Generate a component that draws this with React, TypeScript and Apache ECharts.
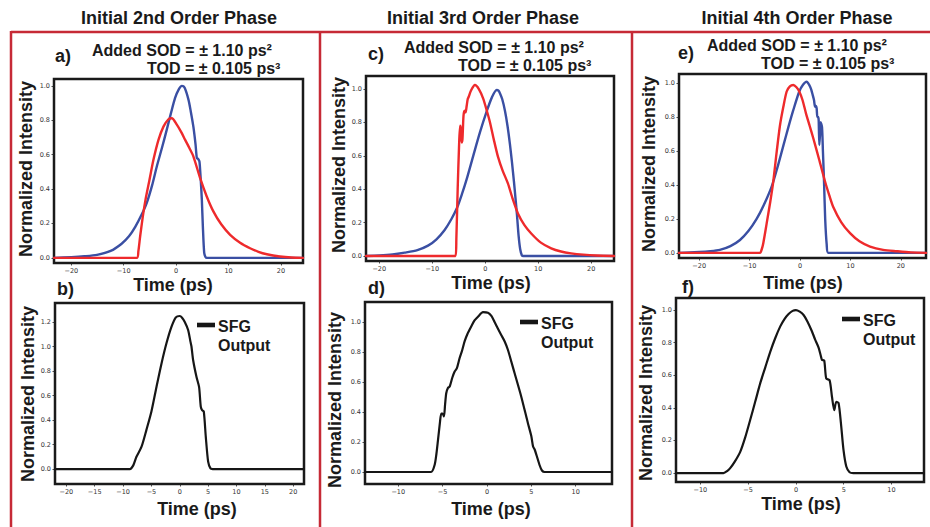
import React, { useEffect, useRef } from "react";
import * as echarts from "echarts";

// ---------- data ----------
const xTicksWide = [-20, -10, 0, 10, 20];
const xTicksB = [-20, -15, -10, -5, 0, 5, 10, 15, 20];
const xTicksNarrow = [-10, -5, 0, 5, 10];
const yTicks10 = [0, 0.2, 0.4, 0.6, 0.8, 1.0];
const yTicks12 = [0, 0.2, 0.4, 0.6, 0.8, 1.0, 1.2];

const columnTitles = ["Initial 2nd Order Phase", "Initial 3rd Order Phase", "Initial 4th Order Phase"];
const panelLetters = ["a)", "b)", "c)", "d)", "e)", "f)"];
const sodText = "Added SOD = \u00b1 1.10 ps\u00b2";
const todText = "TOD = \u00b1 0.105 ps\u00b3";

const aBlue: number[][] = [[-23.3,0],[-20,0.004],[-17.5,0.009],[-15.1,0.017],[-12.5,0.04],[-10.4,0.082],[-9,0.125],[-7.8,0.18],[-6.6,0.25],[-5.6,0.32],[-4.6,0.42],[-3.7,0.53],[-2.7,0.64],[-1.8,0.744],[-1,0.84],[-0.2,0.93],[0.5,0.98],[1.1,1.0],[1.6,0.99],[2.35,0.92],[2.8,0.85],[3.3,0.76],[3.7,0.66],[3.95,0.58],[4.2,0.575],[4.45,0.56],[4.7,0.45],[4.9,0.34],[5.1,0.18],[5.35,0.03],[5.6,0.005],[5.85,0],[24.2,0]];
const aRed: number[][] = [[-23.3,0],[-7.5,0],[-7.2,0.04],[-6.87,0.124],[-6.36,0.24],[-5.85,0.337],[-5.09,0.453],[-4.33,0.57],[-3.37,0.686],[-2.42,0.763],[-1.46,0.806],[-0.83,0.812],[0.13,0.775],[1.0,0.73],[1.72,0.686],[2.5,0.64],[3.3,0.589],[4.58,0.463],[5.8,0.36],[7.1,0.27],[8.6,0.195],[10.3,0.134],[12.2,0.088],[14.1,0.056],[15.7,0.035],[17.3,0.021],[19.8,0.008],[22,0.002],[24.2,0]];
const bSfg: number[][] = [[-22,0],[-8.8,0],[-8.2,0.03],[-7.64,0.1],[-6.76,0.18],[-5.88,0.32],[-5.0,0.47],[-4.11,0.67],[-3.23,0.86],[-2.35,1.026],[-1.47,1.16],[-0.7,1.238],[0,1.249],[0.4,1.235],[0.88,1.2],[1.47,1.135],[1.88,1.04],[2.06,1.0],[2.35,0.89],[2.94,0.753],[3.4,0.67],[3.7,0.51],[3.94,0.48],[4.23,0.47],[4.59,0.26],[5.0,0.06],[5.41,0.005],[5.8,0],[21.9,0]];
const cBlue: number[][] = [[-22.5,0],[-20,0.003],[-17.5,0.009],[-15.2,0.02],[-12.8,0.035],[-10.8,0.062],[-9.2,0.1],[-7.66,0.156],[-6.4,0.22],[-5.3,0.29],[-4.4,0.37],[-3.5,0.46],[-2.26,0.6],[-1.0,0.74],[0.32,0.87],[1.26,0.95],[2.15,0.994],[2.5,0.99],[2.77,0.975],[3.2,0.94],[3.72,0.87],[4.2,0.78],[4.66,0.67],[5.05,0.56],[5.42,0.445],[5.7,0.35],[5.98,0.25],[6.3,0.12],[6.6,0.04],[6.9,0.005],[7.2,0],[24.3,0]];
const cRed: number[][] = [[-22.5,0],[-5.6,0],[-5.45,0.1],[-5.2,0.4],[-4.95,0.65],[-4.75,0.78],[-4.6,0.76],[-4.45,0.68],[-4.3,0.7],[-4.1,0.84],[-3.9,0.87],[-3.7,0.86],[-3.5,0.9],[-3.3,0.94],[-3.1,0.955],[-2.7,0.99],[-1.95,1.024],[-1.2,1.0],[-0.4,0.944],[0.3,0.87],[0.9,0.8],[1.6,0.7],[2.4,0.595],[3.3,0.51],[4.28,0.435],[5.2,0.34],[6.17,0.255],[7.4,0.185],[8.68,0.135],[10.5,0.08],[12.45,0.046],[14.3,0.027],[16.2,0.016],[18.5,0.008],[21,0.003],[24.3,0]];
const dSfg: number[][] = [[-13.75,0],[-6.3,0],[-5.9,0.047],[-5.7,0.12],[-5.52,0.213],[-5.3,0.33],[-5.15,0.39],[-5.0,0.39],[-4.85,0.37],[-4.72,0.45],[-4.59,0.525],[-4.4,0.56],[-4.2,0.57],[-3.9,0.63],[-3.64,0.67],[-3.4,0.69],[-3.08,0.76],[-2.8,0.81],[-2.52,0.87],[-2.2,0.92],[-1.77,0.97],[-1.4,1.01],[-1.01,1.035],[-0.45,1.065],[0.11,1.062],[0.5,1.04],[0.86,1.0],[1.2,0.96],[1.61,0.913],[2.0,0.87],[2.37,0.813],[3.12,0.658],[3.87,0.502],[4.62,0.325],[5.0,0.24],[5.2,0.17],[5.38,0.15],[5.6,0.11],[5.94,0.045],[6.2,0.01],[6.5,0],[14.1,0]];
const eBlue: number[][] = [[-24,0],[-20,0.005],[-17.8,0.01],[-15.9,0.018],[-13.8,0.04],[-11.9,0.076],[-10.2,0.13],[-8.6,0.2],[-7.2,0.28],[-5.62,0.39],[-4.5,0.5],[-3.31,0.63],[-2.3,0.74],[-1.33,0.84],[-0.14,0.95],[0.6,0.99],[1.33,1.008],[1.7,0.995],[1.99,0.98],[2.25,0.96],[2.52,0.93],[2.78,0.9],[2.98,0.86],[3.15,0.865],[3.31,0.85],[3.44,0.8],[3.6,0.8],[3.71,0.78],[3.84,0.635],[3.98,0.7],[4.11,0.77],[4.25,0.77],[4.37,0.74],[4.55,0.6],[4.77,0.42],[5.0,0.2],[5.3,0.05],[5.63,0],[25,0]];
const eRed: number[][] = [[-24,0],[-7.94,0],[-7.6,0.02],[-7.28,0.057],[-6.6,0.175],[-5.9,0.3],[-5.3,0.42],[-4.6,0.6],[-3.97,0.75],[-3.3,0.86],[-2.64,0.95],[-2.0,0.98],[-1.33,0.988],[-0.7,0.975],[-0.14,0.95],[0.5,0.9],[1.2,0.82],[1.9,0.75],[2.64,0.675],[3.8,0.55],[4.97,0.42],[5.8,0.34],[6.6,0.27],[8.2,0.18],[9.93,0.116],[11.8,0.068],[13.9,0.037],[16.5,0.018],[19.2,0.01],[22,0.003],[25,0]];
const fSfg: number[][] = [[-12.55,0],[-7.58,0],[-7.2,0.012],[-6.88,0.03],[-6.4,0.07],[-5.83,0.13],[-5.3,0.22],[-4.79,0.325],[-4.25,0.44],[-3.74,0.55],[-3.2,0.65],[-2.69,0.744],[-2.15,0.83],[-1.64,0.9],[-1.2,0.945],[-0.77,0.976],[-0.35,0.995],[0,1.0],[0.4,0.99],[0.8,0.97],[1.2,0.93],[1.67,0.87],[2.0,0.82],[2.37,0.77],[2.6,0.72],[2.72,0.695],[2.96,0.69],[3.17,0.58],[3.52,0.57],[3.77,0.468],[4.01,0.386],[4.22,0.437],[4.46,0.43],[4.71,0.305],[4.98,0.14],[5.27,0.04],[5.61,0.005],[6.0,0],[13.4,0]];

// ---------- layout ----------
const FONT = '"Liberation Sans", Arial, Helvetica, sans-serif';
const BLUE = "#3a4fa3";
const RED = "#ee2a2c";
const BLACK = "#161616";
const FRAME_RED = "#c62a36";

const panels = [
  { grid: { left: 54, top: 79, width: 249, height: 184 }, x: [-23.3, 24.2], y: [-0.03, 1.04], xt: xTicksWide, yt: yTicks10 },
  { grid: { left: 55, top: 303, width: 249, height: 181 }, x: [-22.0, 21.9], y: [-0.122, 1.355], xt: xTicksB, yt: yTicks12 },
  { grid: { left: 366, top: 76, width: 248, height: 185 }, x: [-22.5, 24.3], y: [-0.03, 1.078], xt: xTicksWide, yt: yTicks10 },
  { grid: { left: 365, top: 302, width: 247, height: 182 }, x: [-13.75, 14.1], y: [-0.08, 1.133], xt: xTicksNarrow, yt: yTicks10 },
  { grid: { left: 679, top: 74, width: 247, height: 184 }, x: [-24.0, 25.0], y: [-0.03, 1.053], xt: xTicksWide, yt: yTicks10 },
  { grid: { left: 676, top: 298, width: 248, height: 184 }, x: [-12.55, 13.4], y: [-0.055, 1.074], xt: xTicksNarrow, yt: yTicks10 },
];

const seriesDefs = [
  { p: 0, data: aBlue, color: BLUE, w: 2.4 },
  { p: 0, data: aRed, color: RED, w: 2.4 },
  { p: 1, data: bSfg, color: BLACK, w: 2.2 },
  { p: 2, data: cBlue, color: BLUE, w: 2.4 },
  { p: 2, data: cRed, color: RED, w: 2.4 },
  { p: 3, data: dSfg, color: BLACK, w: 2.2 },
  { p: 4, data: eBlue, color: BLUE, w: 2.4 },
  { p: 4, data: eRed, color: RED, w: 2.4 },
  { p: 5, data: fSfg, color: BLACK, w: 2.2 },
];

const fmtX = (v: number) => (v < 0 ? "\u2212" + Math.abs(v) : String(v));
const fmtY = (v: number) => v.toFixed(1);

function txt(x: number, y: number, text: string, size: number, align = "left", rotation = 0, weight = "bold", color = "#1a1a1a") {
  return {
    type: "text",
    x,
    y,
    rotation,
    silent: true,
    style: {
      text,
      fontSize: size,
      fontWeight: weight,
      fontFamily: FONT,
      fill: color,
      align,
      textAlign: align,
      verticalAlign: "middle",
      textVerticalAlign: "middle",
    },
  };
}

function redLine(x1: number, y1: number, x2: number, y2: number) {
  return { type: "line", silent: true, shape: { x1, y1, x2, y2 }, style: { stroke: FRAME_RED, lineWidth: 2.5 } };
}

export default function App() {
  const ref = useRef<HTMLDivElement>(null);
  useEffect(() => {
    document.body.style.margin = "0";
    if (!ref.current) return;
    const chart = echarts.init(ref.current, undefined, { renderer: "svg" });

    const grids = panels.map((p) => ({
      ...p.grid,
      show: true,
      borderColor: "#1a1a1a",
      borderWidth: 2.5,
      backgroundColor: "#ffffff",
      containLabel: false,
    }));

    const xAxes = panels.map((p, i) => ({
      type: "value",
      gridIndex: i,
      position: "bottom",
      min: p.x[0],
      max: p.x[1],
      axisLine: { show: false, onZero: false },
      splitLine: { show: false },
      axisTick: { show: true, length: 2.5, customValues: p.xt, lineStyle: { color: "#222", width: 0.8 } },
      axisLabel: { show: true, customValues: p.xt, formatter: fmtX, fontSize: 6.5, color: "#333", fontFamily: "DejaVu Sans", margin: 4 },
    }));

    const yAxes = panels.map((p, i) => ({
      type: "value",
      gridIndex: i,
      position: "left",
      min: p.y[0],
      max: p.y[1],
      axisLine: { show: false, onZero: false },
      splitLine: { show: false },
      axisTick: { show: true, length: 2.5, customValues: p.yt, lineStyle: { color: "#222", width: 0.8 } },
      axisLabel: { show: true, customValues: p.yt, formatter: fmtY, fontSize: 6.5, color: "#333", fontFamily: "DejaVu Sans", margin: 4 },
    }));

    const series = seriesDefs.map((s) => ({
      type: "line",
      xAxisIndex: s.p,
      yAxisIndex: s.p,
      data: s.data,
      showSymbol: false,
      symbol: "none",
      smooth: 0.25,
      lineStyle: { color: s.color, width: s.w, cap: "round", join: "round" },
      z: 3,
    }));

    const graphics: any[] = [
      // red frames
      redLine(11, 32, 930, 32),
      redLine(11, 31, 11, 527),
      redLine(320, 31, 320, 527),
      redLine(632, 31, 632, 527),
      // column titles
      txt(179, 18, columnTitles[0], 18, "center"),
      txt(483, 18, columnTitles[1], 18, "center"),
      txt(797, 18, columnTitles[2], 18, "center"),
      // panel letters
      txt(55, 56, panelLetters[0], 18),
      txt(57, 289, panelLetters[1], 18),
      txt(368, 54, panelLetters[2], 18),
      txt(368, 288, panelLetters[3], 18),
      txt(678, 53, panelLetters[4], 18),
      txt(682, 287, panelLetters[5], 18),
      // annotations
      txt(92, 50, sodText, 16),
      txt(147, 68, todText, 16),
      txt(404, 47, sodText, 16),
      txt(458, 65, todText, 16),
      txt(707, 45, sodText, 16),
      txt(761, 63, todText, 16),
      // axis names
      txt(26, 169, "Normalized Intensity", 18, "center", Math.PI / 2),
      txt(28, 394, "Normalized Intensity", 18, "center", Math.PI / 2),
      txt(339, 165, "Normalized Intensity", 18, "center", Math.PI / 2),
      txt(335, 400, "Normalized Intensity", 18, "center", Math.PI / 2),
      txt(649, 164, "Normalized Intensity", 18, "center", Math.PI / 2),
      txt(646, 393, "Normalized Intensity", 18, "center", Math.PI / 2),
      txt(173, 285, "Time (ps)", 18, "center"),
      txt(197, 509, "Time (ps)", 18, "center"),
      txt(491, 283, "Time (ps)", 18, "center"),
      txt(491, 509, "Time (ps)", 18, "center"),
      txt(803, 283, "Time (ps)", 18, "center"),
      txt(801, 504, "Time (ps)", 18, "center"),
    ];

    const legends = [
      { x: 197, y: 325 },
      { x: 520, y: 322 },
      { x: 842, y: 319 },
    ];
    legends.forEach((l) => {
      graphics.push({ type: "rect", silent: true, shape: { x: l.x, y: l.y - 2.3, width: 18, height: 4.6 }, style: { fill: BLACK } });
      graphics.push(txt(l.x + 21, l.y + 1, "SFG", 16));
      graphics.push(txt(l.x + 21, l.y + 20, "Output", 16));
    });

    chart.setOption({
      animation: false,
      backgroundColor: "#ffffff",
      grid: grids,
      xAxis: xAxes,
      yAxis: yAxes,
      series,
      graphic: { elements: graphics },
    });

    return () => chart.dispose();
  }, []);

  return <div ref={ref} style={{ position: "absolute", left: 0, top: 0, width: 930, height: 527 }} />;
}
